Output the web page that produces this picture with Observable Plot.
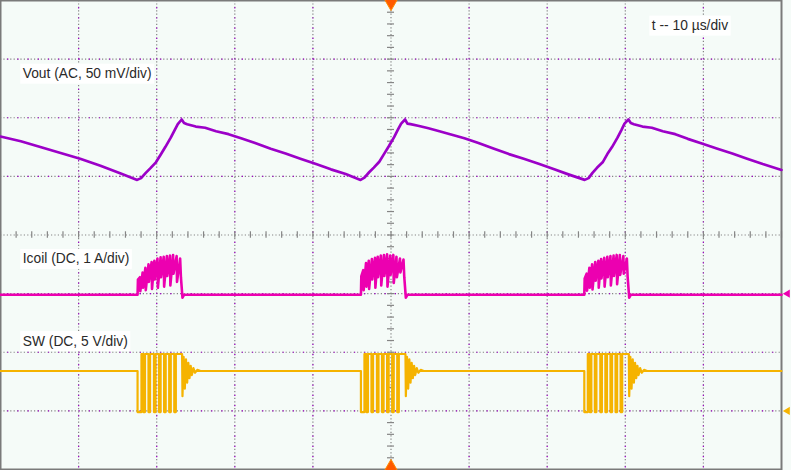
<!DOCTYPE html>
<html><head><meta charset="utf-8">
<script src="https://cdn.jsdelivr.net/npm/d3@7"></script>
<script src="https://cdn.jsdelivr.net/npm/@observablehq/plot@0.6"></script>
<style>html,body{margin:0;padding:0;background:#f5fbf8;overflow:hidden}</style>
</head><body><div id="chart"></div>
<script>
// time in µs (10 µs/div), vertical in divisions from screen centre
const voutT = [0,2.6,5.1,7.7,10.2,12.8,15.4,17.5,18.0,18.6,19.2,19.9,20.5,21.1,21.8,22.3,22.7,23.2,23.5,23.9,25.0,26.2,27.6,29.2,30.8,32.6,34.6,36.5,38.4,40.4,42.3,44.2,46.1,
  46.6,47.2,47.8,48.5,49.1,49.7,50.4,50.9,51.3,51.8,52.1,52.5,53.6,54.8,56.2,57.8,59.4,61.2,63.2,65.1,67.0,69.0,70.9,72.8,74.8,
  75.3,75.8,76.4,77.1,77.7,78.3,79.0,79.5,79.9,80.4,80.7,81.1,82.2,83.4,84.8,86.4,88.0,89.8,91.8,93.7,95.6,97.6,100];
const voutV = [1.68,1.60,1.50,1.40,1.30,1.18,1.05,0.94,0.97,1.06,1.14,1.24,1.37,1.50,1.66,1.79,1.89,1.97,1.91,1.89,1.85,1.83,1.77,1.72,1.65,1.57,1.47,1.39,1.30,1.21,1.12,1.04,0.94,
  0.98,1.07,1.15,1.25,1.38,1.51,1.67,1.80,1.90,1.97,1.90,1.89,1.86,1.82,1.77,1.71,1.65,1.57,1.47,1.38,1.30,1.21,1.12,1.03,0.94,
  0.97,1.06,1.15,1.24,1.38,1.50,1.66,1.79,1.90,1.97,1.91,1.89,1.85,1.83,1.77,1.72,1.64,1.56,1.47,1.39,1.30,1.21,1.11];

const icoilT = [0,17.55,17.6,17.85,17.9,18.2,18.25,18.55,18.6,18.95,19.0,19.35,19.4,19.7,19.75,20.1,20.15,20.5,20.55,20.9,20.95,21.3,21.35,21.7,21.75,22.1,22.15,22.55,22.6,23.0,23.1,23.3,23.5,
  46.15,46.2,46.45,46.5,46.8,46.85,47.15,47.2,47.55,47.6,47.95,48.0,48.3,48.35,48.7,48.75,49.1,49.15,49.5,49.55,49.9,49.95,50.3,50.35,50.7,50.75,51.15,51.2,51.6,51.7,51.9,52.1,
  74.75,74.8,75.05,75.1,75.4,75.45,75.75,75.8,76.15,76.2,76.55,76.6,76.9,76.95,77.3,77.35,77.7,77.75,78.1,78.15,78.5,78.55,78.9,78.95,79.3,79.35,79.75,79.8,80.2,80.3,80.5,80.7,100];
const icoilV = [-1.02,-1.02,-0.76,-0.72,-0.96,-0.64,-0.90,-0.56,-0.94,-0.50,-0.80,-0.46,-0.92,-0.44,-0.76,-0.40,-0.90,-0.38,-0.72,-0.37,-0.88,-0.36,-0.70,-0.35,-0.86,-0.34,-0.66,-0.36,-0.80,-0.40,-0.72,-1.07,-1.02,
  -1.02,-0.70,-0.60,-0.94,-0.48,-0.88,-0.44,-0.92,-0.41,-0.76,-0.39,-0.90,-0.37,-0.72,-0.35,-0.86,-0.34,-0.70,-0.33,-0.88,-0.35,-0.68,-0.34,-0.82,-0.37,-0.72,-0.40,-0.64,-0.42,-0.72,-1.07,-1.02,
  -1.02,-0.74,-0.66,-0.95,-0.56,-0.90,-0.50,-0.93,-0.46,-0.78,-0.44,-0.90,-0.41,-0.74,-0.39,-0.88,-0.37,-0.72,-0.36,-0.86,-0.35,-0.70,-0.34,-0.84,-0.34,-0.68,-0.36,-0.66,-0.40,-0.72,-1.07,-1.02,-1.02];

const swT = [0,17.55,17.55,18.05,18.05,18.3,18.3,18.5,18.5,18.95,18.95,19.15,19.15,19.65,19.65,19.85,19.85,20.3,20.3,20.5,20.5,20.95,20.95,21.15,21.15,21.6,21.6,21.8,21.8,22.25,22.25,22.45,22.45,23.25,
  23.3,23.45,23.6,23.75,23.9,24.05,24.2,24.35,24.5,24.7,24.9,25.2,25.6,
  46.15,46.15,46.6,46.6,46.85,46.85,47.05,47.05,47.5,47.5,47.7,47.7,48.2,48.2,48.4,48.4,48.85,48.85,49.05,49.05,49.5,49.5,49.7,49.7,50.15,50.15,50.35,50.35,50.8,50.8,51.0,51.0,51.85,
  51.9,52.05,52.2,52.35,52.5,52.65,52.8,52.95,53.1,53.3,53.5,53.8,54.2,
  74.75,74.75,75.2,75.2,75.45,75.45,75.65,75.65,76.1,76.1,76.3,76.3,76.8,76.8,77.0,77.0,77.45,77.45,77.65,77.65,78.1,78.1,78.3,78.3,78.75,78.75,78.95,78.95,79.4,79.4,79.6,79.6,80.45,
  80.5,80.65,80.8,80.95,81.1,81.25,81.4,81.55,81.7,81.9,82.1,82.4,82.8,100];
const swV = [-2.32,-2.32,-3.02,-3.02,-2.03,-2.03,-3.02,-3.02,-2.03,-2.03,-3.02,-3.02,-2.03,-2.03,-3.02,-3.02,-2.03,-2.03,-3.02,-3.02,-2.03,-2.03,-3.02,-3.02,-2.03,-2.03,-3.02,-3.02,-2.03,-2.03,-3.02,-3.02,-2.03,-2.03,
  -2.75,-2.08,-2.62,-2.12,-2.52,-2.18,-2.44,-2.23,-2.39,-2.27,-2.35,-2.30,-2.32,
  -2.32,-3.02,-3.02,-2.03,-2.03,-3.02,-3.02,-2.03,-2.03,-3.02,-3.02,-2.03,-2.03,-3.02,-3.02,-2.03,-2.03,-3.02,-3.02,-2.03,-2.03,-3.02,-3.02,-2.03,-2.03,-3.02,-3.02,-2.03,-2.03,-3.02,-3.02,-2.03,-2.03,
  -2.75,-2.08,-2.62,-2.12,-2.52,-2.18,-2.44,-2.23,-2.39,-2.27,-2.35,-2.30,-2.32,
  -2.32,-3.02,-3.02,-2.03,-2.03,-3.02,-3.02,-2.03,-2.03,-3.02,-3.02,-2.03,-2.03,-3.02,-3.02,-2.03,-2.03,-3.02,-3.02,-2.03,-2.03,-3.02,-3.02,-2.03,-2.03,-3.02,-3.02,-2.03,-2.03,-3.02,-3.02,-2.03,-2.03,
  -2.75,-2.08,-2.62,-2.12,-2.52,-2.18,-2.44,-2.23,-2.39,-2.27,-2.35,-2.30,-2.32,-2.32];

const labelText = ["Vout (AC, 50 mV/div)", "Icoil (DC, 1 A/div)", "SW (DC, 5 V/div)", "t -- 10 µs/div"];
const labelX = [2.85, 2.85, 2.85, 83.4];
const labelY = [2.75, -0.41, -1.81, 3.57];

const xGrid = [10,20,30,40,60,70,80,90];
const yGrid = [-3,-2,-1,1,2,3];

const vout = voutT.map((t,i)=>({t, v: voutV[i]}));
const icoil = icoilT.map((t,i)=>({t, v: icoilV[i]}));
const sw = swT.map((t,i)=>({t, v: swV[i]}));
const labels = labelText.map((s,i)=>({s, x: labelX[i], y: labelY[i]}));

const gridCol = "#858585";
const chart = Plot.plot({
  width: 791, height: 470,
  marginLeft: 0, marginRight: 10, marginTop: 0, marginBottom: 1,
  x: {domain: [0, 100], axis: null},
  y: {domain: [-4, 4], axis: null},
  style: {background: "#f5fbf8"},
  marks: [
    Plot.ruleX(xGrid, {stroke: gridCol, strokeWidth: 1.2, strokeDasharray: "1.2,2.2"}),
    Plot.ruleY(yGrid, {stroke: gridCol, strokeWidth: 1.2, strokeDasharray: "1.2,2.2"}),
    Plot.ruleX(xGrid, {stroke: "#a000c8", strokeWidth: 1.2, strokeDasharray: "1.2,9", strokeDashoffset: 3}),
    Plot.ruleY(yGrid, {stroke: "#a000c8", strokeWidth: 1.2, strokeDasharray: "1.2,9", strokeDashoffset: 3}),
    Plot.ruleX([50], {stroke: gridCol, strokeWidth: 1.2, strokeDasharray: "1.2,2.2"}),
    Plot.ruleY([0], {stroke: gridCol, strokeWidth: 1.2, strokeDasharray: "1.2,2.2"}),
    Plot.ruleX(d3.range(0, 100.01, 2), {x: d => d, y1: -0.055, y2: 0.055, stroke: gridCol, strokeWidth: 1.2}),
    Plot.ruleY(d3.range(-4, 4.01, 0.2), {y: d => d, x1: 49.55, x2: 50.45, stroke: gridCol, strokeWidth: 1.2}),
    Plot.frame({stroke: "#7a7a7a", strokeWidth: 2}),
    Plot.line(vout, {x: "t", y: "v", stroke: "#9c00c8", strokeWidth: 2.7}),
    Plot.line(icoil, {x: "t", y: "v", stroke: "#ec00b0", strokeWidth: 2.6}),
    Plot.line(sw, {x: "t", y: "v", stroke: "#f5b300", strokeWidth: 2.2}),
    Plot.dot([50], {x: d => d, y: 4, symbol: "triangle", rotate: 180, r: 6.5, fill: "#ff5a00", stroke: "#ff8c00", strokeWidth: 1}),
    Plot.dot([50], {x: d => d, y: -4, symbol: "triangle", r: 6.5, fill: "#ff5a00", stroke: "#ff8c00", strokeWidth: 1}),
    Plot.dot([-1.0], {x: 100, y: d => d, dx: 6, symbol: "triangle", rotate: -90, r: 3, fill: "#ec00b0"}),
    Plot.dot([-3.0], {x: 100, y: d => d, dx: 6, symbol: "triangle", rotate: -90, r: 3, fill: "#f5b300"}),
    Plot.text(labels, {x: "x", y: "y", text: "s", textAnchor: "start", lineAnchor: "middle", fontSize: 13.8, fontFamily: "Liberation Sans, Arial, sans-serif", fill: "#2a2a2a"})
  ]
});
document.getElementById("chart").append(chart);
// white boxes behind the annotation labels
const svgRect = chart.getBoundingClientRect();
const texts = Array.from(chart.querySelectorAll("text"));
if (texts.length) {
  const g = texts[0].parentNode;
  texts.forEach(t => {
    const b = t.getBoundingClientRect();
    const r = document.createElementNS("http://www.w3.org/2000/svg", "rect");
    r.setAttribute("x", b.left - svgRect.left - 2.5);
    r.setAttribute("y", b.top - svgRect.top - 2.5);
    r.setAttribute("width", b.width + 5);
    r.setAttribute("height", b.height + 5);
    r.setAttribute("fill", "#ffffff");
    g.parentNode.insertBefore(r, g);
  });
}
</script></body></html>
